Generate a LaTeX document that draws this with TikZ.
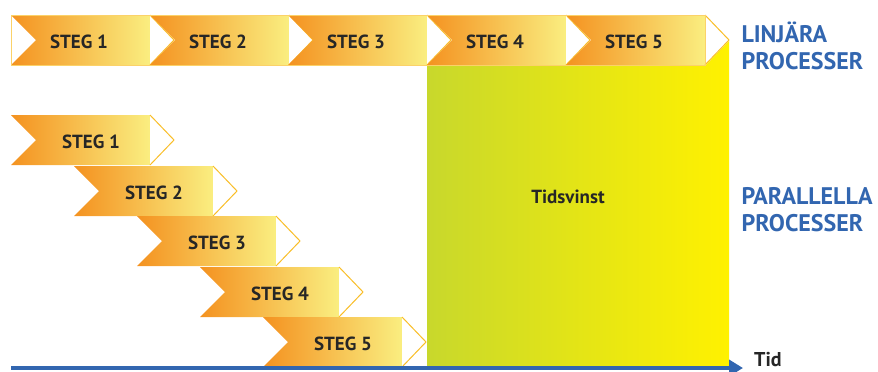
\documentclass[tikz,border=0pt]{standalone}
\usepackage{fontspec}
\setmainfont{PT Sans}
\usetikzlibrary{arrows.meta}
\definecolor{stegorange}{RGB}{244,146,32}
\definecolor{steggul}{RGB}{250,238,128}
\definecolor{kant}{RGB}{249,190,40}
\definecolor{procblue}{RGB}{50,102,176}
\definecolor{vinstgron}{RGB}{200,216,44}
\definecolor{vinstgul}{RGB}{255,241,0}
\tikzset{
  stegtext/.style={font=\bfseries\fontsize{19}{19}\selectfont, text=black!85},
  proctext/.style={font=\bfseries\fontsize{24}{27}\selectfont, text=procblue, align=left, anchor=west},
}
% #1 name, #2 left x, #3 top y, #4 text offset, #5 label
\newcommand{\steg}[5]{%
  \shade[left color=stegorange, right color=steggul] (#2,#3) -- ++(139,0) -- ++(0,50) -- ++(-139,0) -- ++(25,-25) -- cycle;
  \draw[kant, fill=white, line width=1] (#2+139,#3) -- ++(24,25) -- ++(-24,25);
  \node[stegtext] (#1) at (#2+#4,#3+27) {#5};
}

\begin{document}
\begin{tikzpicture}[x=1pt, y=-1pt]

  \useasboundingbox (0,0) rectangle (878,372);

  %% tidsvinst
  \shade[left color=vinstgron, right color=vinstgul] (427,66) -- (705,66) -- (729,41) -- (729,366) -- (427,366) -- cycle;
  \node[font=\bfseries\fontsize{19}{19}\selectfont, text=black!85] (vinst) at (568,197) {Tidsvinst};

  %% linjara
  \steg{lin1}{11}{15}{68}{STEG 1}
  \steg{lin2}{150}{15}{68}{STEG 2}
  \steg{lin3}{288}{15}{68}{STEG 3}
  \steg{lin4}{427}{15}{68}{STEG 4}
  \steg{lin5}{566}{15}{68}{STEG 5}
  \draw[kant!70, line width=0.6] (11,15) rectangle (705,65);

  %% parallella
  \steg{par1}{11}{115}{80}{STEG 1}
  \steg{par2}{74}{166}{80}{STEG 2}
  \steg{par3}{137}{216}{80}{STEG 3}
  \steg{par4}{200}{267}{80}{STEG 4}
  \steg{par5}{263}{317}{80}{STEG 5}

  %% texter
  \node[proctext] (linjara) at (738,46) {LINJÄRA\\PROCESSER};
  \node[proctext] (parallella) at (738,210) {PARALLELLA\\PROCESSER};

  %% tid
  \coordinate (tid0) at (11,368);
  \coordinate (tid1) at (743,368);
  \draw[procblue, line width=4, -{Triangle[length=14, width=16]}] (tid0) -- (tid1);
  \node[font=\bfseries\fontsize{20}{20}\selectfont, text=black!85, anchor=south west, inner sep=0pt] (tid) at (754,367) {Tid};

\end{tikzpicture}
\end{document}
